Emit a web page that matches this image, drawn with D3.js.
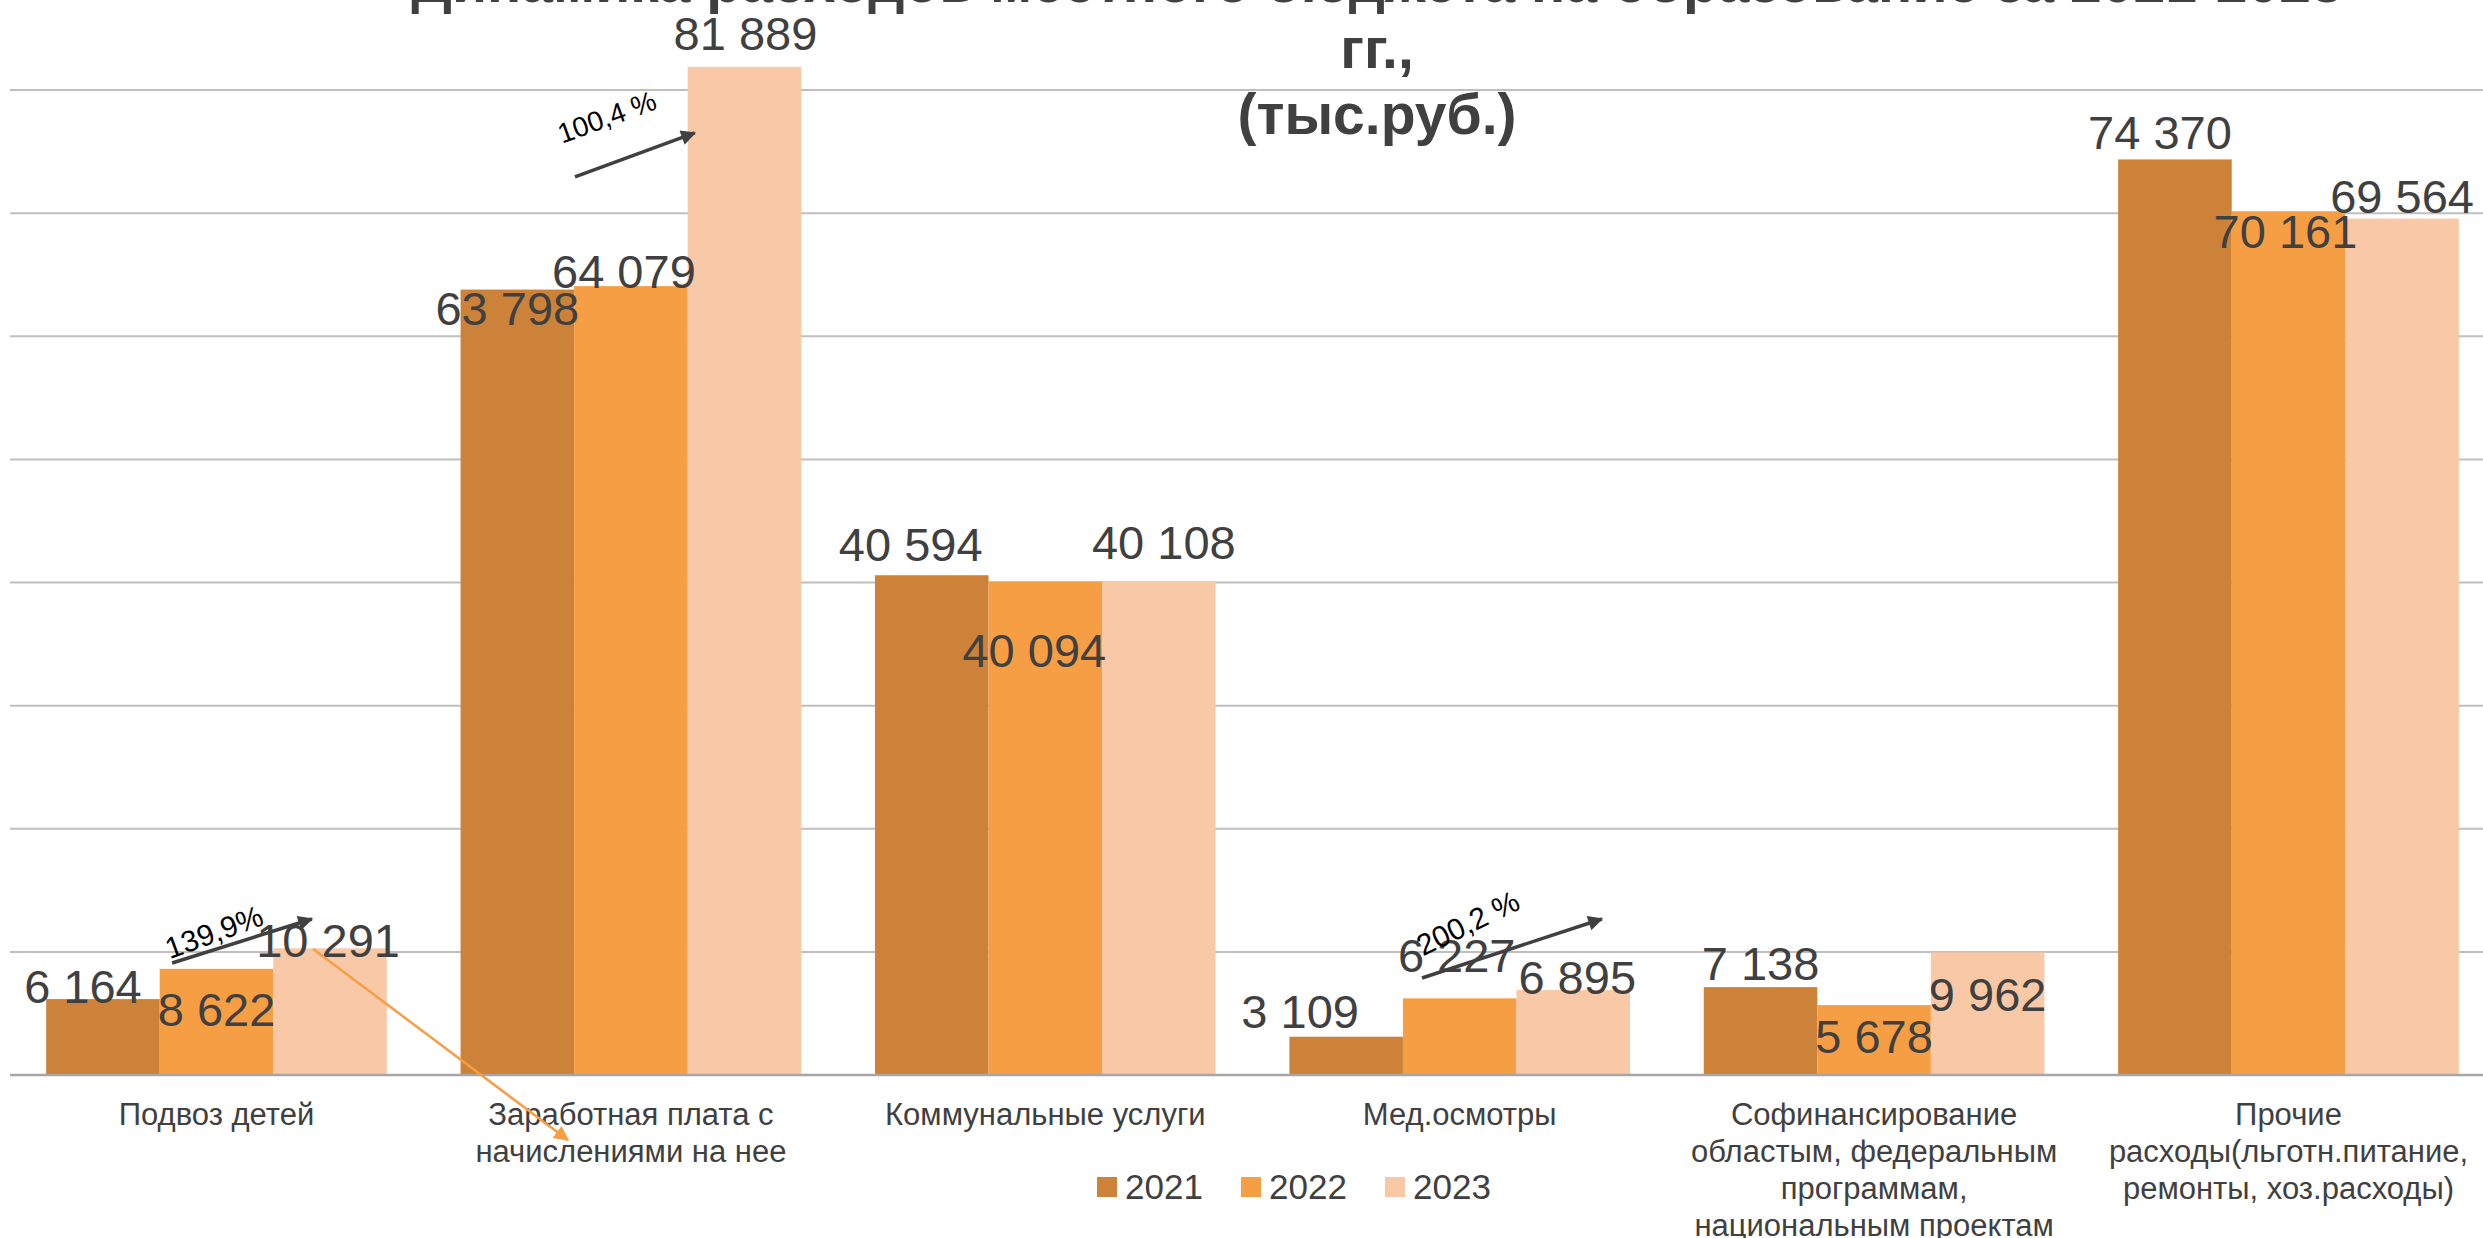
<!DOCTYPE html>
<html><head><meta charset="utf-8">
<script src="https://cdn.jsdelivr.net/npm/d3@7"></script>
<style>html,body{margin:0;padding:0;background:#fff;overflow:hidden}</style>
</head><body>
<script>
// ---------- data ----------
const categories = [
  "Подвоз детей",
  "Заработная плата с начислениями на нее",
  "Коммунальные услуги",
  "Мед.осмотры",
  "Софинансирование областым, федеральным программам, национальным проектам",
  "Прочие расходы(льготн.питание, ремонты, хоз.расходы)"
];
const years = ["2021", "2022", "2023"];
const values2021 = [6164, 63798, 40594, 3109, 7138, 74370];
const values2022 = [8622, 64079, 40094, 6227, 5678, 70161];
const values2023 = [10291, 81889, 40108, 6895, 9962, 69564];
const yTicks = [0, 10000, 20000, 30000, 40000, 50000, 60000, 70000, 80000, 90000];
const titleLines = ["Динамика расходов местного бюджета на образование за 2021-2023", "гг.,", "(тыс.руб.)"];
const growthLabels = ["139,9%", "100,4 %", "200,2 %"];

// ---------- layout / style ----------
const W = 2483, H = 1238;
const colors = {"2021": "#CC8238", "2022": "#F59E44", "2023": "#F9C8A6"};
const textColor = "#404040";
const font = "'Liberation Sans', Arial, sans-serif";

const series = years.map((yr, i) => ({year: yr, values: [values2021, values2022, values2023][i]}));

const svg = d3.select("body").append("svg")
  .attr("width", W).attr("height", H)
  .style("display", "block").style("font-family", font);

const x0 = d3.scaleBand().domain(categories).range([9.3, 2495.7]).paddingInner(0.178).paddingOuter(0.089);
const x1 = d3.scaleBand().domain(years).range([0, x0.bandwidth()]);
const y = d3.scaleLinear().domain([0, 90000]).range([1075, -33]);
const xp = d3.scaleLinear().domain([0, categories.length]).range([9.3, 2495.7]);

// gridlines
svg.append("g").selectAll("line").data(yTicks.filter(t => t > 0)).join("line")
  .attr("x1", 10).attr("x2", 2496)
  .attr("y1", d => y(d)).attr("y2", d => y(d))
  .attr("stroke", "#BFBFBF").attr("stroke-width", 2);

// title
svg.append("g").selectAll("text").data(titleLines).join("text")
  .attr("x", 1377).attr("y", (d, i) => 2 + i * 66)
  .attr("text-anchor", "middle")
  .attr("font-size", 57).attr("font-weight", "bold")
  .attr("fill", textColor).text(d => d);

// bars
const groups = svg.append("g").selectAll("g").data(categories).join("g")
  .attr("transform", d => `translate(${x0(d)},0)`);
groups.selectAll("rect").data((c, ci) => series.map(s => ({year: s.year, value: s.values[ci]})))
  .join("rect")
  .attr("x", d => x1(d.year)).attr("width", x1.bandwidth())
  .attr("y", d => y(d.value)).attr("height", d => y(0) - y(d.value))
  .attr("fill", d => colors[d.year]);

// baseline
svg.append("line").attr("x1", 10).attr("x2", 2496).attr("y1", y(0)).attr("y2", y(0))
  .attr("stroke", "#A6A6A6").attr("stroke-width", 2.5);

// data labels (manually moved in the original: pixel nudges from bar-top centre)
const labelNudge = [
  [[-20, 4], [0, 57], [-2, 9]],
  [[-10, 35], [-7, 2], [1, -17]],
  [[-21, -14], [-11, 86], [5, -22]],
  [[-46, -9], [-3, -26], [4, 4]],
  [[0, -7], [0, 48], [0, 59]],
  [[-15, -10], [-3, 37], [0, -6]]
];
const fmt = v => d3.format(",")(v).replace(/,/g, " ");
const labelData = [];
categories.forEach((c, ci) => series.forEach((s, si) => {
  labelData.push({c, year: s.year, value: s.values[ci], nudge: labelNudge[ci][si]});
}));
svg.append("g").selectAll("text").data(labelData).join("text")
  .attr("x", d => x0(d.c) + x1(d.year) + x1.bandwidth() / 2 + d.nudge[0])
  .attr("y", d => y(d.value) + d.nudge[1])
  .attr("text-anchor", "middle").attr("font-size", 47).attr("fill", textColor)
  .text(d => fmt(d.value));

// category labels (wrapped)
const catG = svg.append("g");
categories.forEach(c => {
  const cx = x0(c) + x0.bandwidth() / 2;
  const t = catG.append("text").attr("x", cx).attr("y", 1125)
    .attr("text-anchor", "middle").attr("font-size", 31).attr("fill", textColor);
  const words = c.split(" ");
  let line = [];
  let ts = t.append("tspan").attr("x", cx).attr("dy", 0);
  words.forEach(w => {
    line.push(w);
    ts.text(line.join(" "));
    if (ts.node().getComputedTextLength() > 400 && line.length > 1) {
      line.pop(); ts.text(line.join(" "));
      line = [w];
      ts = t.append("tspan").attr("x", cx).attr("dy", 37).text(w);
    }
  });
});

// legend
const legend = svg.append("g").selectAll("g").data(years).join("g")
  .attr("transform", (d, i) => `translate(${1097 + i * 144},0)`);
legend.append("rect").attr("x", 0).attr("y", 1177).attr("width", 20).attr("height", 20)
  .attr("fill", d => colors[d]);
legend.append("text").attr("x", 28).attr("y", 1199).attr("font-size", 35)
  .attr("fill", textColor).text(d => d);

// growth annotations (arrows in data coordinates: [category position, value])
const defs = svg.append("defs");
function marker(id, col) {
  defs.append("marker").attr("id", id).attr("viewBox", "0 0 10 10")
    .attr("refX", 9).attr("refY", 5).attr("markerWidth", 18).attr("markerHeight", 15)
    .attr("markerUnits", "userSpaceOnUse").attr("orient", "auto")
    .append("path").attr("d", "M0,0 L10,5 L0,10 z").attr("fill", col);
}
marker("arrDark", "#404040");
marker("arrOrange", "#F59E44");

const arrows = [
  {from: [0.393, 9098], to: [0.730, 12673], color: "#404040", w: 3.5, m: "arrDark"},
  {from: [1.365, 72950], to: [1.654, 76520], color: "#404040", w: 3.5, m: "arrDark"},
  {from: [3.409, 7880], to: [3.843, 12673], color: "#404040", w: 3.5, m: "arrDark"},
  {from: [0.733, 10236], to: [1.348, -5280], color: "#F59E44", w: 2.5, m: "arrOrange"}
];
svg.append("g").selectAll("line").data(arrows).join("line")
  .attr("x1", d => xp(d.from[0])).attr("y1", d => y(d.from[1]))
  .attr("x2", d => xp(d.to[0])).attr("y2", d => y(d.to[1]))
  .attr("stroke", d => d.color).attr("stroke-width", d => d.w)
  .attr("marker-end", d => `url(#${d.m})`);

const growthPos = [
  {at: [0.494, 11617], rot: -20, size: 30},
  {at: [1.442, 77823], rot: -20, size: 28},
  {at: [3.520, 12348], rot: -26, size: 30}
];
svg.append("g").selectAll("text").data(growthLabels).join("text")
  .attr("transform", (d, i) => `translate(${xp(growthPos[i].at[0])},${y(growthPos[i].at[1])}) rotate(${growthPos[i].rot})`)
  .attr("text-anchor", "middle").attr("dy", "0.35em")
  .attr("font-size", (d, i) => growthPos[i].size).attr("fill", "#000")
  .text(d => d);
</script>
</body></html>
